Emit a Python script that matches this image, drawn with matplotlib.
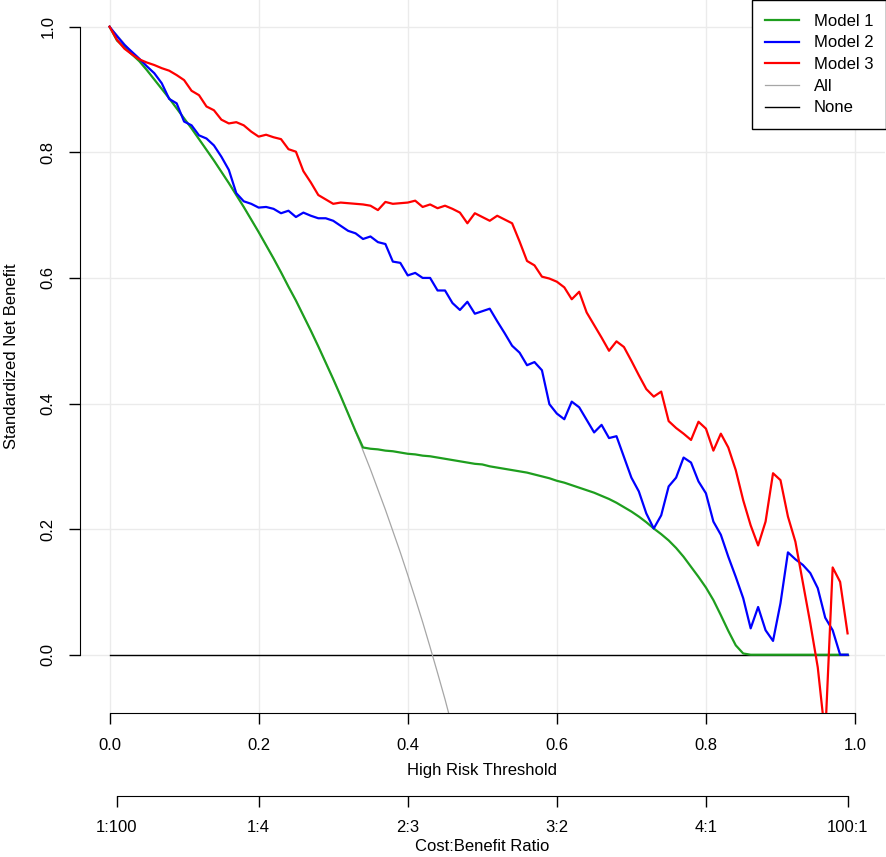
import numpy as np
import matplotlib.pyplot as plt

plt.rcParams['font.family'] = ['Liberation Sans', 'DejaVu Sans']
plt.rcParams['font.size'] = 12

thresholds = np.round(np.arange(0, 1.0, 0.01), 2)

model1 = [1.000, 0.978, 0.967, 0.956, 0.945, 0.931, 0.916, 0.901, 0.886, 0.870,
          0.854, 0.838, 0.821, 0.804, 0.787, 0.769, 0.751, 0.732, 0.713, 0.693,
          0.673, 0.652, 0.631, 0.609, 0.586, 0.564, 0.540, 0.516, 0.491, 0.465,
          0.439, 0.412, 0.384, 0.356, 0.330, 0.328, 0.327, 0.325, 0.324, 0.322,
          0.320, 0.319, 0.317, 0.316, 0.314, 0.312, 0.310, 0.308, 0.306, 0.304,
          0.303, 0.300, 0.298, 0.296, 0.294, 0.292, 0.290, 0.287, 0.284, 0.281,
          0.277, 0.274, 0.270, 0.266, 0.262, 0.258, 0.253, 0.248, 0.242, 0.235,
          0.228, 0.220, 0.211, 0.201, 0.192, 0.182, 0.170, 0.156, 0.140, 0.124,
          0.107, 0.087, 0.063, 0.038, 0.015, 0.002, 0.000, 0.000, 0.000, 0.000,
          0.000, 0.000, 0.000, 0.000, 0.000, 0.000, 0.000, 0.000, 0.000, 0.000]

model2 = [1.000, 0.985, 0.971, 0.960, 0.949, 0.937, 0.926, 0.910, 0.885, 0.878,
          0.849, 0.843, 0.827, 0.822, 0.811, 0.793, 0.772, 0.735, 0.722, 0.718,
          0.712, 0.713, 0.710, 0.703, 0.707, 0.697, 0.704, 0.699, 0.695, 0.695,
          0.691, 0.683, 0.675, 0.671, 0.662, 0.666, 0.657, 0.654, 0.626, 0.624,
          0.604, 0.608, 0.600, 0.600, 0.580, 0.580, 0.560, 0.549, 0.562, 0.543,
          0.547, 0.551, 0.531, 0.512, 0.492, 0.481, 0.461, 0.466, 0.453, 0.399,
          0.384, 0.375, 0.403, 0.394, 0.374, 0.354, 0.366, 0.345, 0.348, 0.315,
          0.282, 0.260, 0.225, 0.201, 0.222, 0.268, 0.282, 0.314, 0.306, 0.276,
          0.257, 0.212, 0.191, 0.156, 0.124, 0.090, 0.042, 0.076, 0.039, 0.022,
          0.082, 0.163, 0.152, 0.143, 0.130, 0.106, 0.059, 0.039, 0.000, 0.000]

model3 = [1.000, 0.979, 0.965, 0.956, 0.948, 0.943, 0.939, 0.934, 0.930, 0.923,
          0.915, 0.898, 0.891, 0.873, 0.867, 0.852, 0.846, 0.848, 0.843, 0.833,
          0.825, 0.828, 0.824, 0.821, 0.805, 0.801, 0.770, 0.752, 0.732, 0.725,
          0.718, 0.720, 0.719, 0.718, 0.717, 0.715, 0.708, 0.721, 0.718, 0.719,
          0.720, 0.723, 0.713, 0.717, 0.711, 0.715, 0.710, 0.704, 0.687, 0.703,
          0.697, 0.691, 0.699, 0.693, 0.687, 0.658, 0.627, 0.620, 0.602, 0.599,
          0.594, 0.585, 0.566, 0.578, 0.545, 0.525, 0.505, 0.484, 0.499, 0.490,
          0.468, 0.445, 0.423, 0.411, 0.419, 0.372, 0.361, 0.352, 0.342, 0.371,
          0.360, 0.325, 0.352, 0.330, 0.294, 0.246, 0.206, 0.174, 0.212, 0.289,
          0.278, 0.220, 0.180, 0.115, 0.050, -0.020, -0.130, 0.139, 0.116, 0.034]

# treat-all curve, read up to where it leaves the plot
treat_all = [1.000, 0.987, 0.973, 0.959, 0.945, 0.931, 0.916, 0.901, 0.886, 0.870,
             0.854, 0.838, 0.821, 0.804, 0.787, 0.769, 0.751, 0.732, 0.713, 0.693,
             0.673, 0.652, 0.631, 0.609, 0.586, 0.564, 0.540, 0.516, 0.491, 0.465,
             0.439, 0.412, 0.384, 0.355, 0.325, 0.295, 0.263, 0.231, 0.197, 0.163,
             0.127, 0.090, 0.052, 0.012, -0.029, -0.071, -0.116]
treat_none = np.zeros(len(thresholds))

x_ticks = [0.0, 0.2, 0.4, 0.6, 0.8, 1.0]
y_ticks = [0.0, 0.2, 0.4, 0.6, 0.8, 1.0]
cb_pos = [1/101, 0.2, 0.4, 0.6, 0.8, 100/101]
cb_labels = ['1:100', '1:4', '2:3', '3:2', '4:1', '100:1']

fig = plt.figure(figsize=(8.86, 8.57), dpi=100)
ax = fig.add_axes([0.09, 0.1686, 0.9087, 0.831])

ax.plot(thresholds, treat_none, color='black', lw=1.0, label='None', zorder=2)
ax.plot(thresholds[:len(treat_all)], treat_all, color='#a6a6a6', lw=0.9, label='All', zorder=2)
ax.plot(thresholds, model1, color='#1e9e1e', lw=1.6, label='Model 1', zorder=3)
ax.plot(thresholds, model2, color='#0000ff', lw=1.6, label='Model 2', zorder=3)
ax.plot(thresholds, model3, color='#ff0000', lw=1.6, label='Model 3', zorder=3)

ax.set_xlim(-0.04, 1.04)
ax.set_ylim(-0.092, 1.042)
ax.set_xticks(x_ticks)
ax.set_yticks(y_ticks)
ax.set_xticklabels(['0.0', '0.2', '0.4', '0.6', '0.8', '1.0'])
ax.set_yticklabels(['0.0', '0.2', '0.4', '0.6', '0.8', '1.0'])
ax.grid(True, color='#ebebeb', lw=1.0, zorder=0)
ax.set_axisbelow(True)
for s in ['top', 'right']:
    ax.spines[s].set_visible(False)
ax.spines['left'].set_bounds(0, 1)
ax.spines['bottom'].set_bounds(0, 1)
ax.tick_params(direction='out', length=7.6, width=1)
ax.tick_params(axis='x', pad=11)
ax.tick_params(axis='y', pad=10)
plt.setp(ax.get_yticklabels(), rotation=90, va='center')
ax.set_xlabel('High Risk Threshold', labelpad=7)
ax.set_ylabel('Standardized Net Benefit', labelpad=15.5)

handles, labels = ax.get_legend_handles_labels()
order = [2, 3, 4, 1, 0]
leg = ax.legend([handles[i] for i in order], [labels[i] for i in order],
                loc='upper right', bbox_to_anchor=(1.002, 1.0), borderaxespad=0,
                fancybox=False, edgecolor='black', framealpha=1,
                handlelength=2.0, handletextpad=0.9, labelspacing=0.4, borderpad=0.8)
leg.get_frame().set_linewidth(1.0)

ax2 = ax.twiny()
ax2.set_xlim(ax.get_xlim())
ax2.xaxis.set_ticks_position('bottom')
ax2.xaxis.set_label_position('bottom')
for s in ['top', 'right', 'left']:
    ax2.spines[s].set_visible(False)
ax2.spines['bottom'].set_position(('outward', 60))
ax2.spines['bottom'].set_bounds(cb_pos[0], cb_pos[-1])
ax2.set_xticks(cb_pos)
ax2.set_xticklabels(cb_labels)
ax2.tick_params(direction='out', length=7.6, width=1, pad=10)
ax2.set_xlabel('Cost:Benefit Ratio', labelpad=3)

fig.savefig('out.png', dpi=100)
